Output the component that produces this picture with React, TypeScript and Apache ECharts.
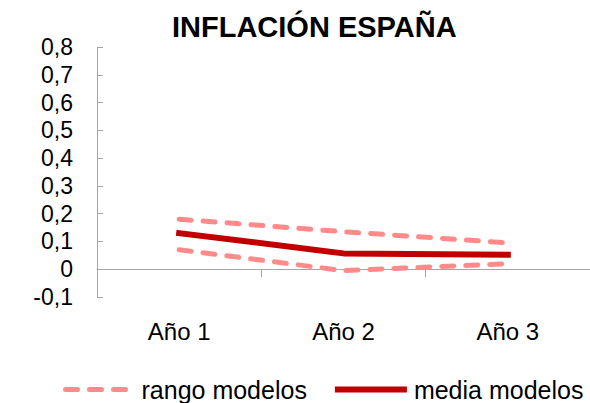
import React, { useEffect, useRef } from "react";
import * as echarts from "echarts";

const categories = ["Año 1", "Año 2", "Año 3"];
const rangoSuperior = [0.18, 0.135, 0.095];
const rangoInferior = [0.07, -0.005, 0.02];
const mediaModelos = [0.13, 0.057, 0.052];
const yTicks = { min: -0.1, max: 0.8, interval: 0.1 };

const FONT = "'Liberation Sans', Arial, Helvetica, sans-serif";
const RANGO_COLOR = "#ff8a8a";
const MEDIA_COLOR = "#c00000";
const AXIS_COLOR = "#a6a6a6";

export default function App() {
  const ref = useRef<HTMLDivElement>(null);
  useEffect(() => {
    if (!ref.current) return;
    const chart = echarts.init(ref.current, null, { renderer: "svg" });
    const rangoLine = {
      color: RANGO_COLOR,
      width: 5,
      type: [12, 12],
      cap: "round",
    };
    chart.setOption({
      animation: false,
      textStyle: { fontFamily: FONT },
      title: {
        text: "INFLACIÓN ESPAÑA",
        left: 167,
        top: 7,
        textStyle: { fontFamily: FONT, fontSize: 29, fontWeight: "bold", color: "#000" },
      },
      grid: { left: 97, top: 47, bottom: 106, right: -11 },
      legend: {
        left: 58,
        top: 372,
        itemWidth: 66,
        itemHeight: 10,
        itemGap: 28,
        lineStyle: { width: "inherit" },
        itemStyle: { opacity: 0 },
        textStyle: { fontFamily: FONT, fontSize: 25, color: "#000", padding: [0, 0, 0, 5] },
        data: ["rango modelos", "media modelos"],
      },
      xAxis: {
        type: "category",
        data: categories,
        boundaryGap: true,
        axisLine: { onZero: true, lineStyle: { color: AXIS_COLOR, width: 1 } },
        axisTick: { show: true, length: 8, lineStyle: { color: AXIS_COLOR } },
        axisLabel: { margin: 22, fontFamily: FONT, fontSize: 24, color: "#000" },
        splitLine: { show: false },
      },
      yAxis: {
        type: "value",
        min: yTicks.min,
        max: yTicks.max,
        interval: yTicks.interval,
        axisLine: { show: true, lineStyle: { color: AXIS_COLOR, width: 1 } },
        axisTick: { show: true, inside: true, length: 6, lineStyle: { color: AXIS_COLOR } },
        splitLine: { show: false },
        axisLabel: {
          margin: 24,
          fontFamily: FONT,
          fontSize: 23,
          color: "#000",
          formatter: (v: number) => {
            const r = Math.round(v * 10) / 10;
            return r === 0 ? "0" : r.toFixed(1).replace(".", ",");
          },
        },
      },
      series: [
        {
          name: "rango modelos",
          type: "line",
          data: rangoSuperior,
          symbol: "none",
          lineStyle: rangoLine,
          itemStyle: { color: RANGO_COLOR },
        },
        {
          name: "rango modelos",
          type: "line",
          data: rangoInferior,
          symbol: "none",
          lineStyle: rangoLine,
          itemStyle: { color: RANGO_COLOR },
        },
        {
          name: "media modelos",
          type: "line",
          data: mediaModelos,
          symbol: "none",
          lineStyle: { color: MEDIA_COLOR, width: 6, cap: "square" },
          itemStyle: { color: MEDIA_COLOR },
        },
      ],
    });
    return () => chart.dispose();
  }, []);
  return <div ref={ref} style={{ width: 590, height: 403, position: "absolute", left: 0, top: 0 }} />;
}
